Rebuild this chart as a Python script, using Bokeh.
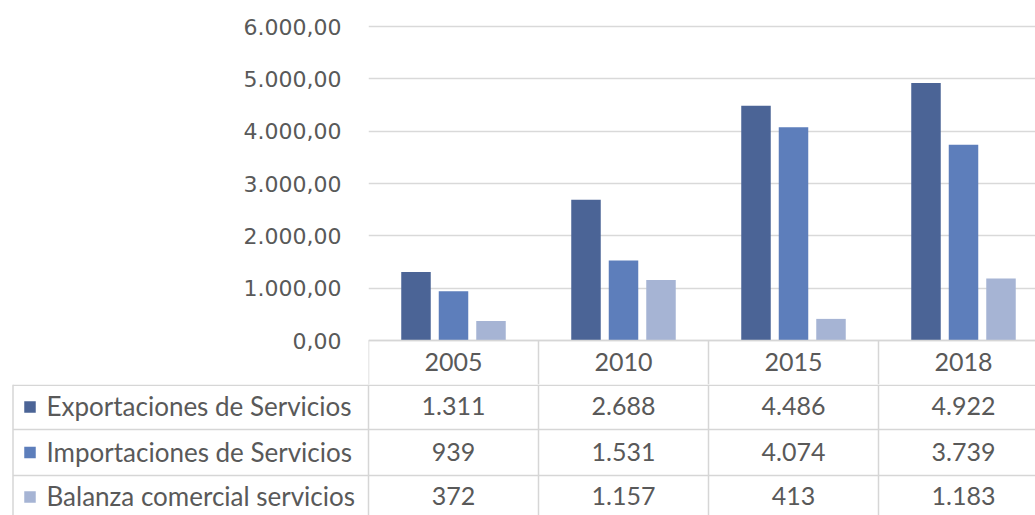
from bokeh.plotting import figure
from bokeh.models import Range1d, FixedTicker
from bokeh.layouts import column
from bokeh.embed import file_html
from bokeh.resources import INLINE
from bokeh.core.properties import value

# ---- data ----
years = ["2005", "2010", "2015", "2018"]
series_names = ["Exportaciones de Servicios", "Importaciones de Servicios", "Balanza comercial servicios"]
exportaciones = [1311, 2688, 4486, 4922]
importaciones = [939, 1531, 4074, 3739]
balanza = [372, 1157, 413, 1183]
table_labels = [["1.311", "2.688", "4.486", "4.922"],
                ["939", "1.531", "4.074", "3.739"],
                ["372", "1.157", "413", "1.183"]]
y_ticks = [0, 1000, 2000, 3000, 4000, 5000, 6000]
y_tick_labels = ["0,00", "1.000,00", "2.000,00", "3.000,00", "4.000,00", "5.000,00", "6.000,00"]

colors = ["#4B6496", "#5D7EBB", "#A6B4D4"]
TEXT = "#595959"
LINE = "#D6D6D6"
AXFONT = "DejaVu Sans"
TFONT = "Lato"
TFS = "25px"

W = 1035
HT = 515
COL = 170.0           # px per category
LEFT = 368            # frame left (canvas px)
X_RIGHT = (W - LEFT) / COL
ZERO_Y = 340
TOP_Y = 26
PXY = (ZERO_Y - TOP_Y) / 6000.0   # px per unit on y
H1 = 384
Y_TOP = 6000 + TOP_Y / PXY
Y_BOT = -(H1 - ZERO_Y) / PXY

p1 = figure(width=W, height=H1, x_range=Range1d(0, X_RIGHT), y_range=Range1d(Y_BOT, Y_TOP),
            output_backend="svg", toolbar_location=None, x_axis_location=None,
            min_border_left=LEFT, min_border_right=0, min_border_top=0, min_border_bottom=0)
p1.frame_align = False
p1.outline_line_color = None
p1.xgrid.visible = False
p1.ygrid.grid_line_color = "#D9D9D9"
p1.ygrid.grid_line_width = 1.5
p1.yaxis.ticker = FixedTicker(ticks=y_ticks)
p1.yaxis.major_label_overrides = {t: l for t, l in zip(y_ticks, y_tick_labels)}
p1.yaxis.axis_line_color = None
p1.yaxis.major_tick_line_color = None
p1.yaxis.minor_tick_line_color = None
p1.yaxis.major_label_text_font = AXFONT
p1.yaxis.major_label_text_font_size = "22px"
p1.yaxis.major_label_text_color = TEXT
p1.yaxis.major_label_standoff = 21

offsets = [-0.2206, 0.0, 0.2206]
bw = 29.5 / COL
for vals, off, c in zip([exportaciones, importaciones, balanza], offsets, colors):
    xs = [i + 0.5 + off for i in range(len(years))]
    p1.vbar(x=xs, top=vals, bottom=0, width=bw, fill_color=c, line_color=None)

# table header row (years)
p1.segment(x0=[0], y0=[0], x1=[4], y1=[0], line_color=LINE, line_width=1.5)
p1.segment(x0=[0, 1, 2, 3], y0=[0] * 4, x1=[0, 1, 2, 3], y1=[Y_BOT] * 4, line_color=LINE, line_width=1.5)
y_year = -(361 - ZERO_Y) / PXY
p1.text(x=[i + 0.5 for i in range(len(years))], y=[y_year] * len(years), text=years,
        text_align="center", text_baseline="middle", text_color=TEXT,
        text_font=value(TFONT), text_font_size=TFS)

# ---- table body ----
H2 = HT - H1
p2 = figure(width=W, height=H2, x_range=Range1d(-LEFT / COL, X_RIGHT), y_range=Range1d(H2, 0),
            output_backend="svg", toolbar_location=None, x_axis_location=None, y_axis_location=None,
            min_border=0)
p2.frame_align = False
p2.outline_line_color = None
p2.grid.visible = False
x_tab = -LEFT / COL + 12.5 / COL
p2.segment(x0=[x_tab, 0, 1, 2, 3], y0=[0] * 5, x1=[x_tab, 0, 1, 2, 3], y1=[H2 + 10] * 5,
           line_color=LINE, line_width=1.5)
row_lines = [0.75, 45, 91]
p2.segment(x0=[x_tab] * 3, y0=row_lines, x1=[4] * 3, y1=row_lines, line_color=LINE, line_width=1.5)
row_y = [21.5, 67, 111.5]
for r, (name, c) in enumerate(zip(series_names, colors)):
    p2.rect(x=[-LEFT / COL + 29.5 / COL], y=[row_y[r] + 1], width=11.5 / COL, height=11.5,
            fill_color=c, line_color=None)
    p2.text(x=[-LEFT / COL + 46 / COL], y=[row_y[r]], text=[name], text_align="left",
            text_baseline="middle", text_color=TEXT, text_font=value(TFONT), text_font_size="26px")
    p2.text(x=[i + 0.5 for i in range(len(years))], y=[row_y[r]] * len(years), text=table_labels[r],
            text_align="center", text_baseline="middle", text_color=TEXT,
            text_font=value(TFONT), text_font_size=TFS)

layout = column(p1, p2)
open("out.html", "w").write(file_html(layout, INLINE))
